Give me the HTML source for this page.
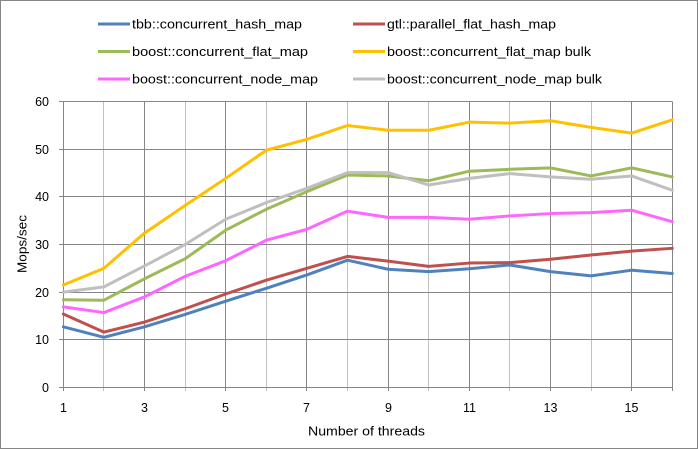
<!DOCTYPE html>
<html><head><meta charset="utf-8"><style>
html,body{margin:0;padding:0;background:#fff;}
svg{display:block;}
text{font-family:"Liberation Sans",Arial,sans-serif;fill:#000;}
</style></head><body>
<svg width="698" height="449" viewBox="0 0 698 449" xmlns="http://www.w3.org/2000/svg">
<rect x="0" y="0" width="698" height="449" fill="#fff"/>
<rect x="0.5" y="0.5" width="697" height="448" fill="none" stroke="#868686" stroke-width="1"/>
<!-- vertical gridlines -->
<g stroke-width="1" fill="none">
<g stroke="#c0c0c0">
<line x1="103.5" y1="101.5" x2="103.5" y2="391"/>
<line x1="185.5" y1="101.5" x2="185.5" y2="391"/>
<line x1="266.5" y1="101.5" x2="266.5" y2="391"/>
<line x1="347.5" y1="101.5" x2="347.5" y2="391"/>
<line x1="428.5" y1="101.5" x2="428.5" y2="391"/>
<line x1="509.5" y1="101.5" x2="509.5" y2="391"/>
<line x1="591.5" y1="101.5" x2="591.5" y2="391"/>
</g>
<g stroke="#868686">
<line x1="144.5" y1="101.5" x2="144.5" y2="391"/>
<line x1="225.5" y1="101.5" x2="225.5" y2="391"/>
<line x1="306.5" y1="101.5" x2="306.5" y2="391"/>
<line x1="388.5" y1="101.5" x2="388.5" y2="391"/>
<line x1="469.5" y1="101.5" x2="469.5" y2="391"/>
<line x1="550.5" y1="101.5" x2="550.5" y2="391"/>
<line x1="631.5" y1="101.5" x2="631.5" y2="391"/>
<line x1="672.5" y1="101.5" x2="672.5" y2="391"/>
<!-- horizontal -->
<line x1="59" y1="101.5" x2="672.5" y2="101.5"/>
<line x1="59" y1="149.5" x2="672.5" y2="149.5"/>
<line x1="59" y1="196.5" x2="672.5" y2="196.5"/>
<line x1="59" y1="244.5" x2="672.5" y2="244.5"/>
<line x1="59" y1="292.5" x2="672.5" y2="292.5"/>
<line x1="59" y1="339.5" x2="672.5" y2="339.5"/>
<line x1="59" y1="387.5" x2="672.5" y2="387.5"/>
<line x1="63.5" y1="101.5" x2="63.5" y2="391"/>
</g>
</g>
<!-- series -->
<g fill="none" stroke-width="3" stroke-linejoin="round" stroke-linecap="round">
<polyline stroke="#4f81bd" points="63.3,326.85 103.9,337.32 144.5,326.85 185.1,314.47 225.7,301.14 266.3,288.29 306.9,274.96 347.5,260.21 388.1,269.25 428.7,271.63 469.3,268.78 509.9,264.97 550.5,271.63 591.1,275.92 631.7,270.2 672.3,273.54"/>
<polyline stroke="#c0504d" points="63.3,314.0 103.9,332.08 144.5,322.09 185.1,308.76 225.7,294.0 266.3,280.2 306.9,268.3 347.5,256.4 388.1,261.16 428.7,266.4 469.3,263.06 509.9,262.59 550.5,259.26 591.1,254.97 631.7,251.16 672.3,248.31"/>
<polyline stroke="#9bbb59" points="63.3,299.72 103.9,300.19 144.5,278.77 185.1,258.78 225.7,230.22 266.3,209.28 306.9,191.66 347.5,175.0 388.1,175.96 428.7,180.72 469.3,171.2 509.9,169.29 550.5,167.86 591.1,175.96 631.7,167.86 672.3,176.91"/>
<polyline stroke="#ffc000" points="63.3,284.96 103.9,268.3 144.5,233.08 185.1,205.47 225.7,178.34 266.3,150.25 306.9,139.3 347.5,125.5 388.1,130.26 428.7,130.26 469.3,122.17 509.9,123.12 550.5,120.74 591.1,127.4 631.7,133.12 672.3,119.79"/>
<polyline stroke="#ff66ff" points="63.3,306.86 103.9,312.57 144.5,296.86 185.1,276.39 225.7,260.68 266.3,240.22 306.9,229.27 347.5,211.18 388.1,217.37 428.7,217.37 469.3,219.27 509.9,215.94 550.5,213.56 591.1,212.61 631.7,210.23 672.3,221.65"/>
<polyline stroke="#bfbfbf" points="63.3,292.1 103.9,286.86 144.5,265.92 185.1,244.5 225.7,219.27 266.3,202.61 306.9,188.33 347.5,172.62 388.1,172.62 428.7,185.0 469.3,178.34 509.9,173.58 550.5,176.91 591.1,179.29 631.7,175.96 672.3,190.24"/>
</g>
<!-- y labels -->
<g font-size="12.5" text-anchor="end">
<text x="49" y="106">60</text>
<text x="49" y="154">50</text>
<text x="49" y="201">40</text>
<text x="49" y="249">30</text>
<text x="49" y="297">20</text>
<text x="49" y="344">10</text>
<text x="49" y="392">0</text>
</g>
<!-- x labels -->
<g font-size="12.5" text-anchor="middle">
<text x="63.5" y="412">1</text>
<text x="144.5" y="412">3</text>
<text x="225.5" y="412">5</text>
<text x="306.5" y="412">7</text>
<text x="388.5" y="412">9</text>
<text x="469.5" y="412">11</text>
<text x="550.5" y="412">13</text>
<text x="631.5" y="412">15</text>
</g>
<text x="308" y="435.5" font-size="13" textLength="117" lengthAdjust="spacingAndGlyphs">Number of threads</text>
<text transform="translate(26.5,273) rotate(-90)" font-size="13" textLength="58" lengthAdjust="spacingAndGlyphs">Mops/sec</text>
<!-- legend -->
<g stroke-width="3" fill="none">
<line x1="98" y1="24" x2="130" y2="24" stroke="#4f81bd"/>
<line x1="98" y1="51.5" x2="130" y2="51.5" stroke="#9bbb59"/>
<line x1="98" y1="79" x2="130" y2="79" stroke="#ff66ff"/>
<line x1="353" y1="24" x2="385" y2="24" stroke="#c0504d"/>
<line x1="353" y1="51.5" x2="385" y2="51.5" stroke="#ffc000"/>
<line x1="353" y1="79" x2="385" y2="79" stroke="#bfbfbf"/>
</g>
<g font-size="13" lengthAdjust="spacingAndGlyphs">
<text x="132" y="28.5" textLength="170" lengthAdjust="spacingAndGlyphs">tbb::concurrent_hash_map</text>
<text x="132" y="56" textLength="176" lengthAdjust="spacingAndGlyphs">boost::concurrent_flat_map</text>
<text x="132" y="83.5" textLength="186" lengthAdjust="spacingAndGlyphs">boost::concurrent_node_map</text>
<text x="387" y="28.5" textLength="169" lengthAdjust="spacingAndGlyphs">gtl::parallel_flat_hash_map</text>
<text x="387" y="56" textLength="204" lengthAdjust="spacingAndGlyphs">boost::concurrent_flat_map bulk</text>
<text x="387" y="83.5" textLength="215" lengthAdjust="spacingAndGlyphs">boost::concurrent_node_map bulk</text>
</g>
</svg>
</body></html>
